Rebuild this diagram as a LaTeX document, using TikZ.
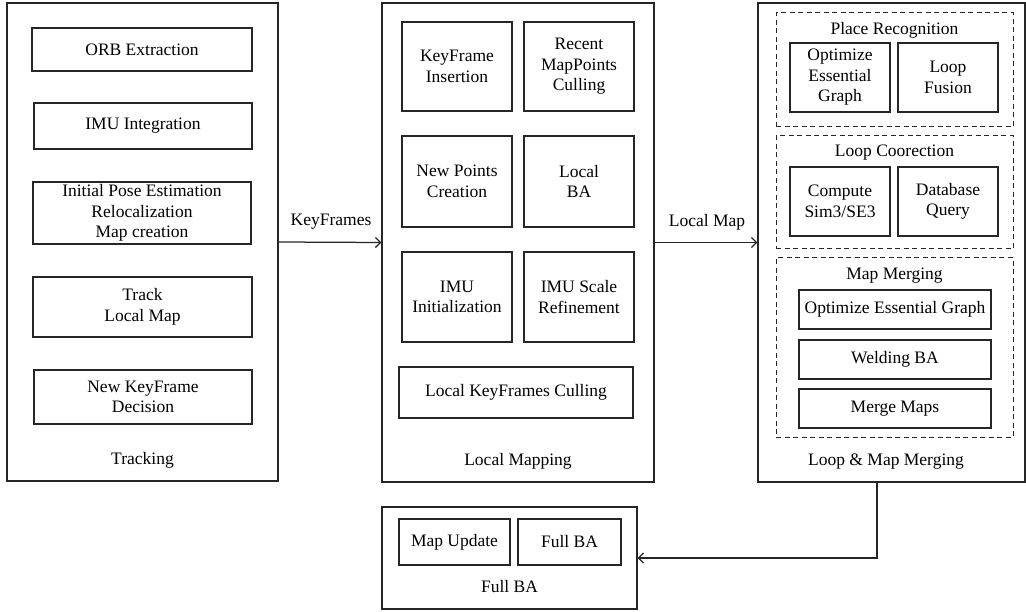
\documentclass[tikz,border=0pt]{standalone}
\usepackage{fontspec}
\setmainfont{Liberation Serif}
\usetikzlibrary{arrows.meta}

\tikzset{
  ln/.style={draw=black!85, line width=1.25pt},
  sz/.style 2 args={minimum width=#1pt, minimum height=#2pt},
  box/.style={ln, inner sep=0pt, align=center},
  group/.style={draw=black!85, line width=1pt, dash pattern=on 5pt off 3.5pt, inner sep=0pt},
  txt/.style={inner sep=0pt, align=center},
  arr/.style={ln, -{Straight Barb[length=5pt,width=10pt,line width=1.3pt]}}
}

\begin{document}
\begin{tikzpicture}[x=1pt,y=-1pt,font=\fontsize{17.5}{20.5}\selectfont]
\useasboundingbox (0,0) rectangle (1026,612);

% ---------------- Tracking ----------------
\node[box, sz={271}{478}] (tracking) at (142.5,242) {};
\node[txt] (trackinglbl) at (142.5,460) {Tracking};
\node[box, sz={220}{43}] (orb) at (142,49.5) {ORB Extraction};
\node[box, sz={218}{46}] (imuint) at (143,126) {IMU Integration};
\node[box, sz={218}{62}] (initpose) at (142,213) {Initial Pose Estimation\\Relocalization\\Map creation};
\node[box, sz={219}{60}] (tracklm) at (142.5,307) {Track\\Local Map};
\node[box, sz={218}{54}] (newkf) at (143,397) {New KeyFrame\\Decision};

% ---------------- Local Mapping ----------------
\node[box, sz={272}{479}] (localmapping) at (518,242.5) {};
\node[txt] (localmappinglbl) at (518,461) {Local Mapping};
\node[box, sz={110}{89}] (kfins) at (457,66.5) {KeyFrame\\Insertion};
\node[box, sz={110}{89}] (mpcull) at (579,66.5) {Recent\\MapPoints\\Culling};
\node[box, sz={110}{91}] (newpts) at (457,181.5) {New Points\\Creation};
\node[box, sz={110}{91}] (localba) at (579,181.5) {Local\\BA};
\node[box, sz={110}{90}] (imuinit) at (457,297) {IMU\\Initialization};
\node[box, sz={110}{90}] (imuscale) at (579,297) {IMU Scale\\Refinement};
\node[box, sz={234}{51}] (kfcull) at (516,392.5) {Local KeyFrames Culling};

% ---------------- Loop & Map Merging ----------------
\node[box, sz={267}{479}] (loop) at (891.5,242.5) {};
\node[txt] (looplbl) at (886,462) {Loop \& Map Merging};

\node[group, sz={237}{114}] (placerec) at (894.5,70) {};
\node[txt] (placereclbl) at (894.5,30) {Place Recognition};
\node[box, sz={100}{69}] (oeg) at (840,77.5) {Optimize\\Essential\\Graph};
\node[box, sz={100}{69}] (loopfusion) at (948,77.5) {Loop\\Fusion};

\node[group, sz={237}{113}] (loopcorr) at (894.5,192.5) {};
\node[txt] (loopcorrlbl) at (894.5,153) {Loop Coorection};
\node[box, sz={100}{69}] (sim3) at (840,201.5) {Compute\\Sim3/SE3};
\node[box, sz={100}{69}] (dbquery) at (948,201.5) {Database\\Query};

\node[group, sz={237}{179}] (mapmerge) at (894.5,347.5) {};
\node[txt] (mapmergelbl) at (894.5,276) {Map Merging};
\node[box, sz={192}{39}] (oegmerge) at (895,309.5) {Optimize Essential Graph};
\node[box, sz={192}{39}] (welding) at (895,359.5) {Welding BA};
\node[box, sz={192}{39}] (mergemaps) at (895,408.5) {Merge Maps};

% ---------------- Full BA ----------------
\node[box, sz={255}{102}] (fullba) at (509.5,558) {};
\node[txt] (fullbalbl) at (509.5,587) {Full BA};
\node[box, sz={111}{46}] (mapupdate) at (454.5,542) {Map Update};
\node[box, sz={103}{46}] (fullbainner) at (569.5,542) {Full BA};

% ---------------- Connectors ----------------
\draw[arr] (tracking.east) -- (localmapping.west);
\node[txt] (kflbl) at (331,222) {KeyFrames};
\draw[arr] (localmapping.east) -- (loop.west);
\node[txt] (lmlbl) at (707,222) {Local Map};
\coordinate (bend) at (877,557);
\draw[arr] (loop.south -| bend) |- (fullba.east);
\end{tikzpicture}
\end{document}
